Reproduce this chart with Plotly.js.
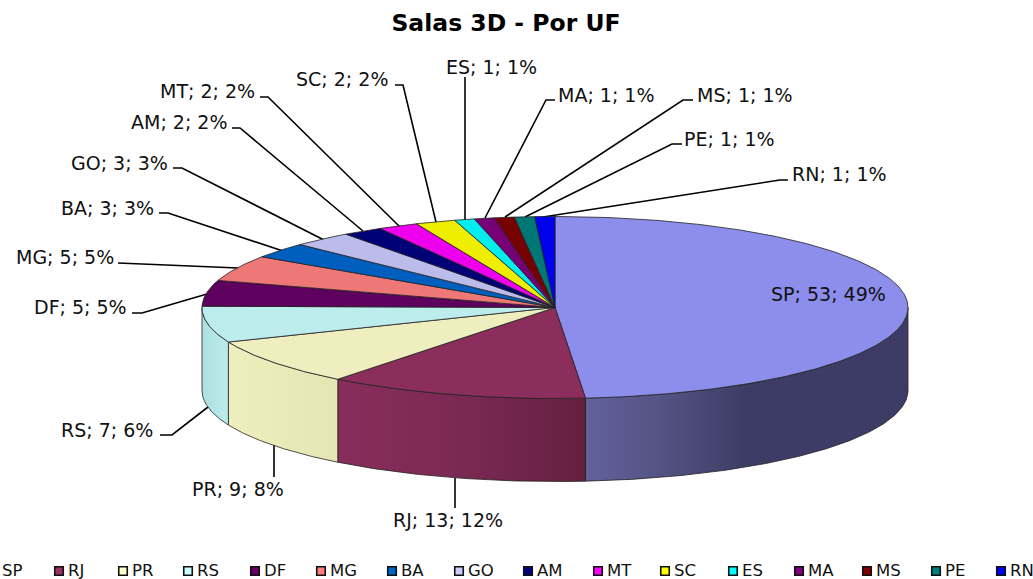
<!DOCTYPE html>
<html>
<head>
<meta charset="utf-8">
<script src="https://cdn.plot.ly/plotly-3.0.1.min.js"></script>
<style>html,body{margin:0;padding:0;background:#fff;overflow:hidden}#chart{width:1033px;height:579px}</style>
</head>
<body>
<div id="chart"></div>
<script>
// ---- data ----
const categories = ['SP','RJ','PR','RS','DF','MG','BA','GO','AM','MT','SC','ES','MA','MS','PE','RN'];
const salas = [53,13,9,7,5,5,3,3,2,2,2,1,1,1,1,1];

// ---- styles ----
const topColors = ['#8d8dec','#8b2e5c','#eeeebe','#bcecec','#5e005e','#ee7878','#005fbe','#bcbcec',
                   '#000077','#ee00ee','#eeee00','#00eeee','#770077','#770000','#007777','#0000ee'];
const legendColors = ['#9999ff','#993366','#ffffcc','#ccffff','#660066','#ff8080','#0066cc','#ccccff',
                      '#000080','#ff00ff','#ffff00','#00ffff','#800080','#800000','#008080','#0000ff'];
const sideScales = {
  SP: [[0,'#62629c'],[0.28,'#50507f'],[0.5,'#3c3c66'],[1,'#3c3c66']],
  RJ: [[0,'#872e5b'],[0.5,'#7b2953'],[1,'#642040']],
  PR: [[0,'#eeeebe'],[1,'#e6e6b4']],
  RS: [[0,'#aee0e0'],[1,'#bcecec']]
};

// ---- geometry of the tilted disc, in axis units (axes span the page in pixels) ----
const cx = 555, cy = 307.5, rx = 353, ry = 91, depth = 83;
const edge = '#222222';
const total = salas.reduce((a, b) => a + b, 0);
const px = t => cx + rx * Math.sin(t);
const py = t => cy - ry * Math.cos(t);

let acc = 0;
const sectors = salas.map(v => {
  const a0 = acc / total * 2 * Math.PI;
  acc += v;
  return [a0, acc / total * 2 * Math.PI];
});
function arc(a0, a1) {
  const n = Math.max(2, Math.ceil((a1 - a0) / 0.01));
  return Array.from({length: n + 1}, (_, i) => a0 + (a1 - a0) * i / n);
}

const traces = [];
// side walls (only the front half is visible)
categories.forEach((c, i) => {
  if (!sideScales[c]) return;
  const a0 = Math.max(sectors[i][0], Math.PI / 2);
  const a1 = Math.min(sectors[i][1], 1.5 * Math.PI);
  const ts = arc(a0, a1);
  const xs = ts.map(px).concat(ts.slice().reverse().map(px));
  const ys = ts.map(py).concat(ts.slice().reverse().map(t => py(t) + depth));
  xs.push(xs[0]); ys.push(ys[0]);
  traces.push({
    type: 'scatter', mode: 'lines', x: xs, y: ys, fill: 'toself', name: c,
    fillgradient: {type: 'horizontal', colorscale: sideScales[c]},
    line: {color: edge, width: 0.8}, hoverinfo: 'skip', showlegend: false
  });
});
// top faces
categories.forEach((c, i) => {
  const ts = arc(sectors[i][0], sectors[i][1]);
  traces.push({
    type: 'scatter', mode: 'lines',
    x: [cx].concat(ts.map(px), [cx]), y: [cy].concat(ts.map(py), [cy]),
    fill: 'toself', fillcolor: topColors[i], name: c,
    line: {color: edge, width: 0.8}, hoverinfo: 'name', showlegend: false
  });
});

// legend row: swatch centres (the first swatch falls off the page, as in the reference)
const legendX = [-7,59,123,188,255,321,392,459,528,598,665,733,799,867,936,1001];
const legendMarkerY = 571, legendTextY = 572;
traces.push({
  type: 'scatter', mode: 'markers', x: legendX.slice(1), y: legendX.slice(1).map(() => legendMarkerY),
  marker: {symbol: 'square', size: 8.5, color: legendColors.slice(1), line: {color: '#111', width: 1.6}},
  hoverinfo: 'skip', showlegend: false
});
traces.push({
  type: 'scatter', mode: 'text', x: legendX.map(v => v + 9), y: legendX.map(() => legendTextY),
  text: categories, textposition: 'middle right', cliponaxis: false,
  textfont: {family: 'DejaVu Sans', size: 16.5, color: '#111'},
  hoverinfo: 'skip', showlegend: false
});

// data labels: [left edge, vertical centre]
const labelPos = [[771,294],[393,520],[192,489],[61,430],[34,307],[16,257],[61,208],[71,163],
                  [131,122],[160,91],[296,79],[446,67],[558,95],[697,95],[684,139],[792,174]];
const dataLabels = categories.map((c, i) => ({
  x: labelPos[i][0], y: labelPos[i][1], xref: 'x', yref: 'y', xanchor: 'left', yanchor: 'middle',
  text: c + '; ' + salas[i] + '; ' + Math.round(salas[i] / total * 100) + '%',
  showarrow: false, borderpad: 0, xshift: -1,
  font: {family: 'DejaVu Sans', size: 19, color: '#111'}
}));

// leader lines
const leaderPaths = [
  'M455 478 L455 508',
  'M274 445 L274 477',
  'M160 435 L172 435 L208 407',
  'M132 313 L142 313 L207 294',
  'M118 263 L238 268',
  'M159 213 L168 213 L283 251',
  'M173 168 L182 168 L324 240',
  'M232 128 L240 128 L363 231',
  'M260 97 L268 97 L400 227',
  'M395 85 L403 85 L436 222',
  'M465 77 L465 220',
  'M555 100 L546 100 L485 218',
  'M693 100 L683 100 L505 217',
  'M682 144 L672 144 L525 217',
  'M788 180 L780 180 L543 217'
];
const shapes = leaderPaths.map(p => ({
  type: 'path', path: p, xref: 'x', yref: 'y', layer: 'below',
  line: {color: '#000', width: 1.6}
}));

const hiddenAxis = {visible: false, showgrid: false, zeroline: false, fixedrange: true};
Plotly.newPlot('chart', traces, {
  width: 1033, height: 579,
  margin: {l: 0, r: 0, t: 0, b: 0},
  paper_bgcolor: '#fff', plot_bgcolor: '#fff',
  showlegend: false,
  title: {
    text: '<b>Salas 3D - Por UF</b>', x: 506 / 1033, xanchor: 'center', xref: 'paper',
    y: 1 - 23 / 579, yanchor: 'middle', yref: 'paper',
    font: {family: 'DejaVu Sans', size: 23.5, color: '#000'}
  },
  xaxis: Object.assign({range: [0, 1033]}, hiddenAxis),
  yaxis: Object.assign({range: [579, 0]}, hiddenAxis),
  annotations: dataLabels, shapes
}, {displayModeBar: false});
</script>
</body>
</html>
